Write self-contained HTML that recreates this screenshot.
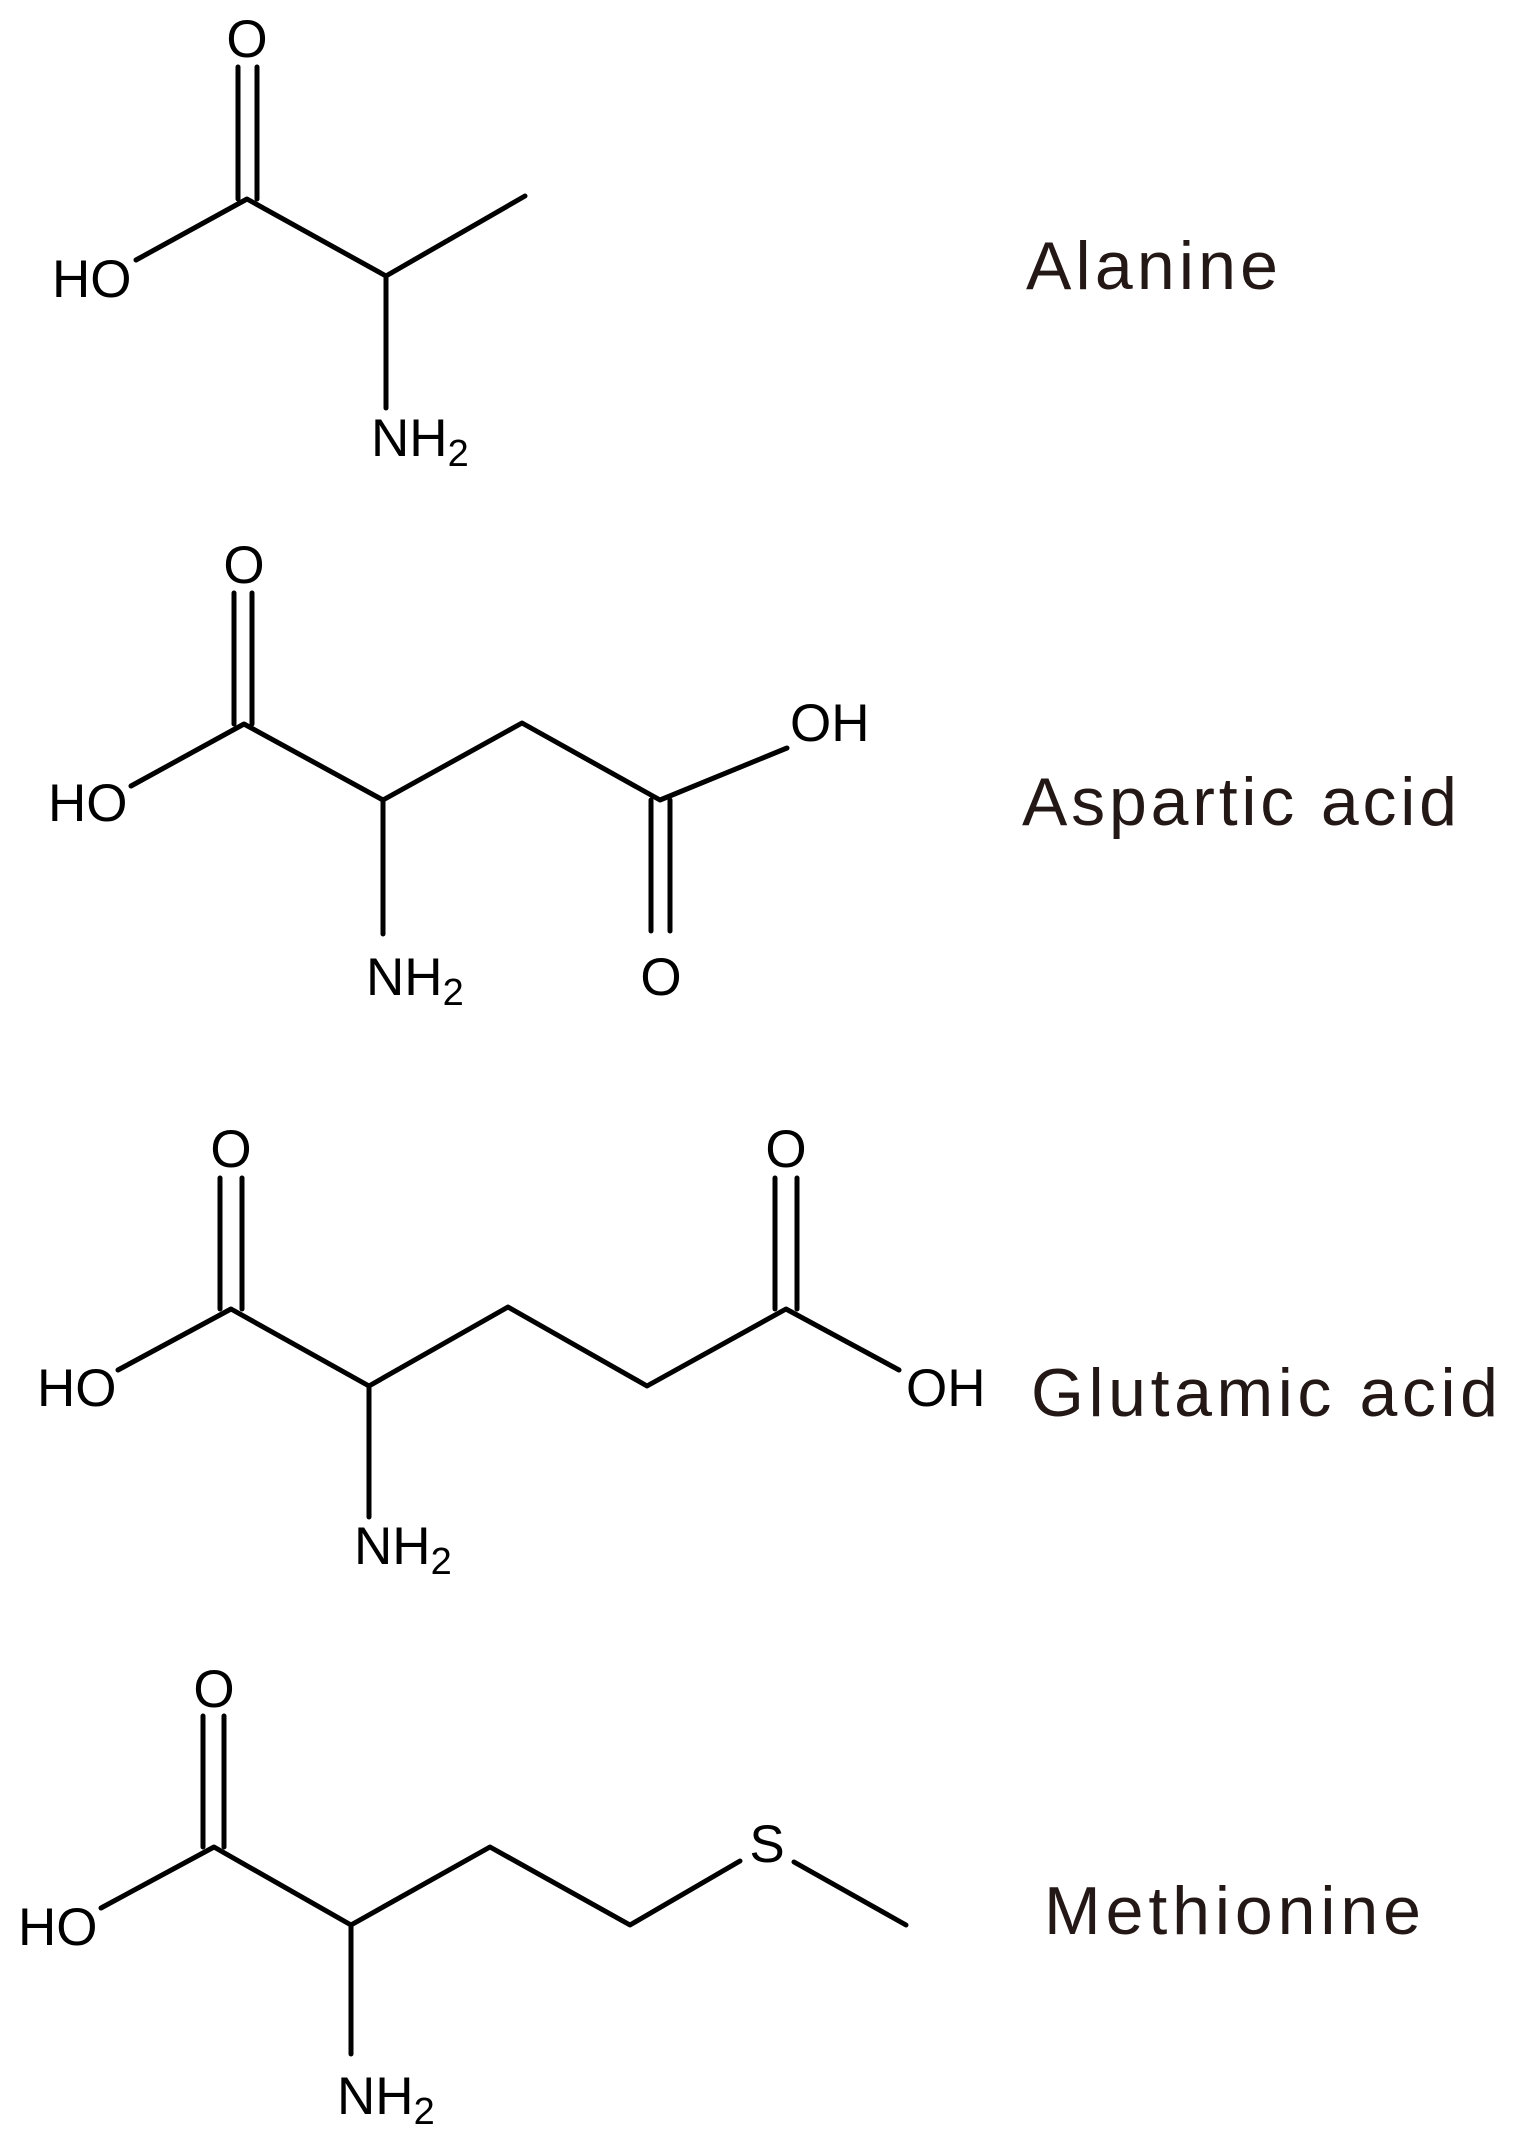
<!DOCTYPE html>
<html><head><meta charset="utf-8"><style>
html,body{margin:0;padding:0;background:#fff;}
svg{display:block}
text{font-family:"Liberation Sans",Arial,sans-serif;fill:#000;}
.lab{fill:#231815;font-size:68px;}
.at{font-size:53px;}
</style></head><body>
<svg width="1519" height="2139" viewBox="0 0 1519 2139" xmlns="http://www.w3.org/2000/svg">
<g stroke="#000" stroke-width="5" fill="none" stroke-linecap="round" stroke-linejoin="round">
<line x1="238" y1="67" x2="238" y2="199"/><line x1="257" y1="67" x2="257" y2="199"/>
<polyline points="136,260 247,199 386,276 525,196"/>
<line x1="386" y1="276" x2="386" y2="408"/>
<line x1="234" y1="593" x2="234" y2="724"/><line x1="252" y1="593" x2="252" y2="724"/>
<polyline points="131,786 244,724 383,800 522,723 660,800 787,748"/>
<line x1="383" y1="800" x2="383" y2="934"/>
<line x1="651" y1="800" x2="651" y2="931"/><line x1="670" y1="800" x2="670" y2="931"/>
<line x1="220" y1="1178" x2="220" y2="1309"/><line x1="242" y1="1178" x2="242" y2="1309"/>
<polyline points="118,1370 231,1309 369,1386 508,1307 647,1386 786,1309 899,1370"/>
<line x1="369" y1="1386" x2="369" y2="1517"/>
<line x1="775" y1="1178" x2="775" y2="1309"/><line x1="797" y1="1178" x2="797" y2="1309"/>
<line x1="203" y1="1716" x2="203" y2="1847"/><line x1="224" y1="1716" x2="224" y2="1847"/>
<polyline points="101,1908 214,1847 351,1925 490,1847 630,1925 740,1861"/>
<line x1="794" y1="1862" x2="906" y2="1925"/>
<line x1="351" y1="1925" x2="351" y2="2054"/>
</g>
<text class="at" x="247" y="57" text-anchor="middle">O</text>
<text class="at" x="52" y="297">HO</text>
<text class="at" x="371" y="456">NH<tspan font-size="38" dy="10">2</tspan></text>

<text class="at" x="244" y="583" text-anchor="middle">O</text>
<text class="at" x="48" y="821">HO</text>
<text class="at" x="366" y="995">NH<tspan font-size="38" dy="10">2</tspan></text>
<text class="at" x="661" y="995" text-anchor="middle">O</text>
<text class="at" x="790" y="741">OH</text>

<text class="at" x="231" y="1167" text-anchor="middle">O</text>
<text class="at" x="37" y="1406">HO</text>
<text class="at" x="354" y="1564">NH<tspan font-size="38" dy="10">2</tspan></text>
<text class="at" x="786" y="1167" text-anchor="middle">O</text>
<text class="at" x="906" y="1406">OH</text>

<text class="at" x="214" y="1707" text-anchor="middle">O</text>
<text class="at" x="18" y="1945">HO</text>
<text class="at" x="337" y="2114">NH<tspan font-size="38" dy="10">2</tspan></text>
<text class="at" x="767" y="1862" text-anchor="middle">S</text>

<text class="lab" x="1026" y="289" textLength="252" lengthAdjust="spacing">Alanine</text>
<text class="lab" x="1022" y="825" textLength="435" lengthAdjust="spacing">Aspartic acid</text>
<text class="lab" x="1031" y="1416" textLength="467" lengthAdjust="spacing">Glutamic acid</text>
<text class="lab" x="1044" y="1934" textLength="377" lengthAdjust="spacing">Methionine</text>
</svg>
</body></html>
